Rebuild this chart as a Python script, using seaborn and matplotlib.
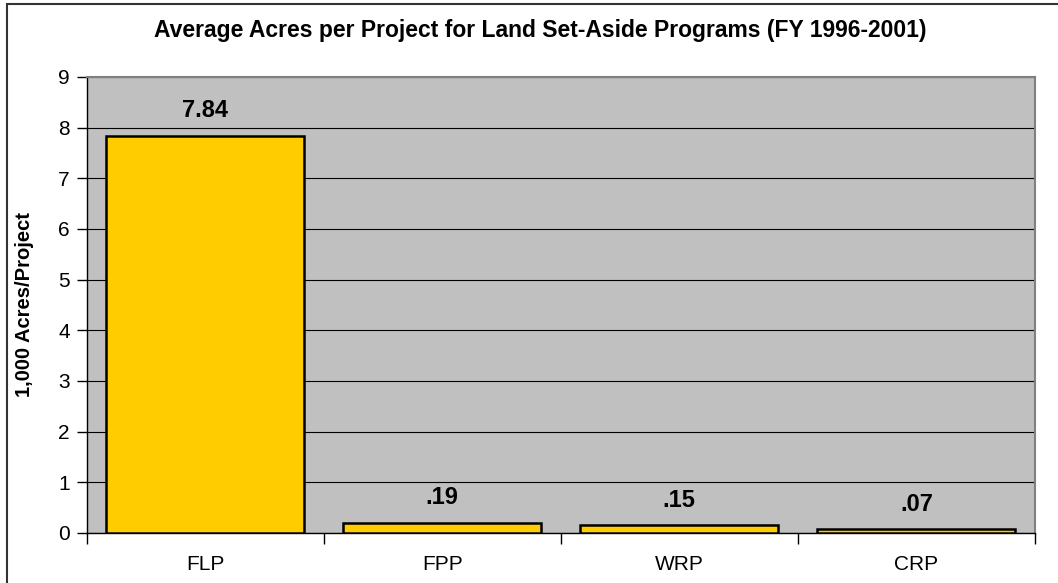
import matplotlib
matplotlib.use("Agg")
import matplotlib.pyplot as plt
from matplotlib.patches import Rectangle
import seaborn as sns
import pandas as pd

programs = ['FLP', 'FPP', 'WRP', 'CRP']
acres_per_project = [7.84, 0.19, 0.15, 0.07]
y_ticks = [0, 1, 2, 3, 4, 5, 6, 7, 8, 9]

df = pd.DataFrame({'Program': programs, 'Acres': acres_per_project})

sns.set_style('white')
plt.rcParams['font.family'] = ['Liberation Sans', 'DejaVu Sans']
plt.rcParams['text.color'] = 'black'
plt.rcParams['axes.labelcolor'] = 'black'
plt.rcParams['xtick.color'] = 'black'
plt.rcParams['ytick.color'] = 'black'

fig = plt.figure(figsize=(10.58, 5.83), dpi=100)
ax = fig.add_axes([86.5 / 1058, 50 / 583, (1035 - 86.5) / 1058, (533 - 77) / 583])
ax.set_facecolor('#C0C0C0')

sns.barplot(data=df, x='Program', y='Acres', color='#FFCC00', saturation=1,
            edgecolor='black', linewidth=1.8, width=0.835, ax=ax, zorder=3)

labels = [f"{v:.2f}".lstrip('0') for v in acres_per_project]
ax.bar_label(ax.containers[0], labels=labels, padding=10,
             fontsize=17, fontweight='bold')

ax.set_ylim(0, 9)
ax.set_xlim(-0.5, 3.5)
ax.set_yticks(y_ticks)
ax.yaxis.grid(True, color='black', linewidth=0.8, zorder=0)
ax.set_axisbelow(True)

ax.tick_params(axis='y', direction='out', length=7, width=1, color='black',
               labelsize=15, pad=5, left=True)
ax.tick_params(axis='x', which='major', length=0, labelsize=15, pad=16)
ax.set_xticks([-0.5, 0.5, 1.5, 2.5, 3.5], minor=True)
ax.tick_params(axis='x', which='minor', direction='out', length=8, width=1,
               color='black', bottom=True)

ax.set_xlabel('')
ax.set_ylabel('1,000 Acres/Project', fontsize=14.5, fontweight='bold', va='center')
ax.yaxis.set_label_coords(-61.5 / (1035 - 86.5), 0.5)

for side in ['left', 'bottom']:
    ax.spines[side].set_color('black')
    ax.spines[side].set_linewidth(1)
for side in ['top', 'right']:
    ax.spines[side].set_color('#808080')
    ax.spines[side].set_linewidth(1.5)

fig.text(540 / 1058, 1 - 31 / 583,
         'Average Acres per Project for Land Set-Aside Programs (FY 1996-2001)',
         ha='center', va='center', fontsize=16.5, fontweight='bold')

fig.patches.append(Rectangle((7 / 1058, -0.1), 1.2, 1.1 - 4.5 / 583,
                             transform=fig.transFigure, fill=False,
                             edgecolor='#333333', linewidth=1.5))

fig.savefig('out.png', dpi=100)
